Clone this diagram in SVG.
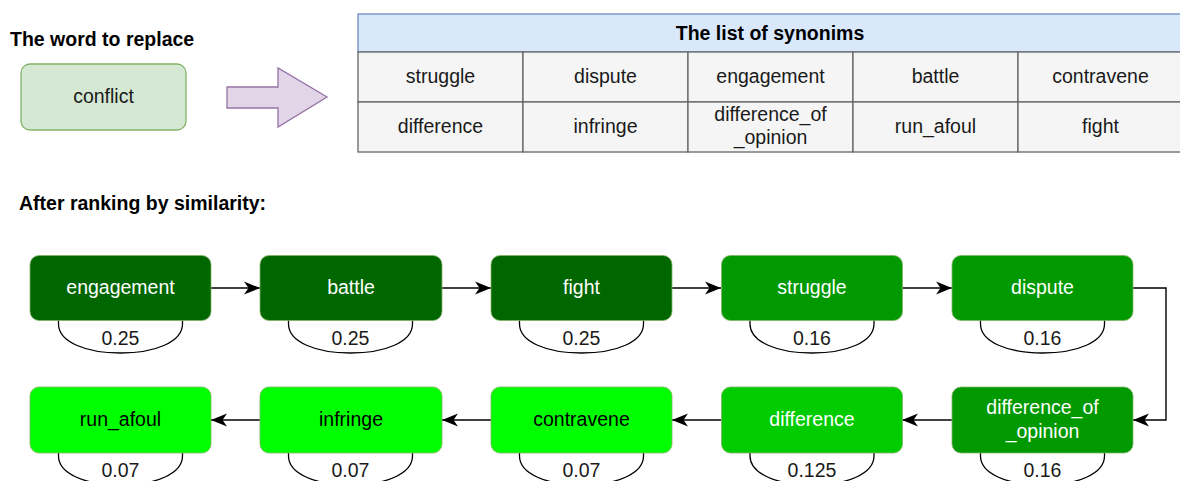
<svg xmlns="http://www.w3.org/2000/svg" width="1180" height="481" viewBox="0 0 1180 481">
<defs>
<marker id="arr" markerUnits="userSpaceOnUse" markerWidth="18" markerHeight="15" refX="16" refY="7" orient="auto">
<path d="M0,0.5 L16,7 L0,13.5 L4.5,7 Z" fill="#000"/>
</marker>
<style>
text{font-family:"Liberation Sans",Arial,Helvetica,sans-serif;font-size:19.5px;text-anchor:middle;fill:#1a1a1a}
.title{font-weight:bold;text-anchor:start;fill:#000}
.hdr{font-weight:bold;fill:#000}
.w{fill:#fff}
.k{fill:#000}
.cell{fill:#f5f5f5;stroke:#666;stroke-width:1.3}
.head{fill:#dae8fc;stroke:#6c8ebf;stroke-width:1.3}
.n{stroke:#82b366;stroke-width:1;stroke-opacity:0.8}
.c1{fill:#006600}
.c2{fill:#009900}
.c3{fill:#00cc00}
.c4{fill:#00ff00}
.bowl{fill:#fff;stroke:#000;stroke-width:1.3}
.edge{fill:none;stroke:#000;stroke-width:1.4}
</style>
</defs>
<rect width="1180" height="481" fill="#fff"/>

<text class="title" x="10" y="45.5">The word to replace</text>
<text class="title" x="19" y="210">After ranking by similarity:</text>

<g id="conflict">
<rect x="21" y="64" width="165" height="66" rx="9" fill="#d5e8d4" stroke="#82b366" stroke-width="1.3"/>
<text x="103.5" y="102.5">conflict</text>
</g>

<g id="bigArrow">
<polygon points="227,87 278,87 278,68 327,97 278,127 278,108 227,108" fill="#e1d5e7" stroke="#9673a6" stroke-width="1.3"/>
</g>

<g id="synonymTable">
<rect class="head" x="358" y="14" width="825" height="38"/>
<text class="hdr" x="770" y="40">The list of synonims</text>
<rect class="cell" x="358" y="52" width="165" height="50"/>
<rect class="cell" x="523" y="52" width="165" height="50"/>
<rect class="cell" x="688" y="52" width="165" height="50"/>
<rect class="cell" x="853" y="52" width="165" height="50"/>
<rect class="cell" x="1018" y="52" width="165" height="50"/>
<rect class="cell" x="358" y="102" width="165" height="50"/>
<rect class="cell" x="523" y="102" width="165" height="50"/>
<rect class="cell" x="688" y="102" width="165" height="50"/>
<rect class="cell" x="853" y="102" width="165" height="50"/>
<rect class="cell" x="1018" y="102" width="165" height="50"/>
<text x="440.5" y="83">struggle</text>
<text x="605.5" y="83">dispute</text>
<text x="770.5" y="83">engagement</text>
<text x="935.5" y="83">battle</text>
<text x="1100.5" y="83">contravene</text>
<text x="440.5" y="133">difference</text>
<text x="605.5" y="133">infringe</text>
<text x="770.5" y="121">difference_of</text>
<text x="770.5" y="144">_opinion</text>
<text x="935.5" y="133">run_afoul</text>
<text x="1100.5" y="133">fight</text>
</g>

<g id="connectors">
<line class="edge" x1="211" y1="288" x2="260" y2="288" marker-end="url(#arr)"/>
<line class="edge" x1="442" y1="288" x2="491" y2="288" marker-end="url(#arr)"/>
<line class="edge" x1="672" y1="288" x2="721" y2="288" marker-end="url(#arr)"/>
<line class="edge" x1="902" y1="288" x2="952" y2="288" marker-end="url(#arr)"/>
<polyline class="edge" points="1133,288 1166,288 1166,420 1133,420" marker-end="url(#arr)"/>
<line class="edge" x1="952" y1="420" x2="902" y2="420" marker-end="url(#arr)"/>
<line class="edge" x1="721" y1="420" x2="672" y2="420" marker-end="url(#arr)"/>
<line class="edge" x1="491" y1="420" x2="442" y2="420" marker-end="url(#arr)"/>
<line class="edge" x1="260" y1="420" x2="211" y2="420" marker-end="url(#arr)"/>
</g>

<g id="n-engagement">
<path class="bowl" d="M58.5,320 L58.5,324 C58.5,342 86,353 120.5,353 C155,353 182.5,342 182.5,324 L182.5,320"/>
<rect class="n c1" x="30" y="255.5" width="181" height="65" rx="9"/>
<text class="w" x="120.5" y="293.5">engagement</text>
<text x="120.5" y="345">0.25</text>
</g>
<g id="n-battle">
<path class="bowl" d="M288.5,320 L288.5,324 C288.5,342 316,353 350.5,353 C385,353 412.5,342 412.5,324 L412.5,320"/>
<rect class="n c1" x="260" y="255.5" width="182" height="65" rx="9"/>
<text class="w" x="351" y="293.5">battle</text>
<text x="350.5" y="345">0.25</text>
</g>
<g id="n-fight">
<path class="bowl" d="M519.5,320 L519.5,324 C519.5,342 547,353 581.5,353 C616,353 643.5,342 643.5,324 L643.5,320"/>
<rect class="n c1" x="491" y="255.5" width="181" height="65" rx="9"/>
<text class="w" x="581.5" y="293.5">fight</text>
<text x="581.5" y="345">0.25</text>
</g>
<g id="n-struggle">
<path class="bowl" d="M750,320 L750,324 C750,342 777.5,353 812,353 C846.5,353 874,342 874,324 L874,320"/>
<rect class="n c2" x="721.5" y="255.5" width="181" height="65" rx="9"/>
<text class="w" x="812" y="293.5">struggle</text>
<text x="812" y="345">0.16</text>
</g>
<g id="n-dispute">
<path class="bowl" d="M980.5,320 L980.5,324 C980.5,342 1008,353 1042.5,353 C1077,353 1104.5,342 1104.5,324 L1104.5,320"/>
<rect class="n c2" x="952" y="255.5" width="181" height="65" rx="9"/>
<text class="w" x="1042.5" y="293.5">dispute</text>
<text x="1042.5" y="345">0.16</text>
</g>

<g id="n-run_afoul">
<path class="bowl" d="M58.5,452 L58.5,456 C58.5,474 86,485 120.5,485 C155,485 182.5,474 182.5,456 L182.5,452"/>
<rect class="n c4" x="30" y="387" width="181" height="66" rx="9"/>
<text class="k" x="120.5" y="425.5">run_afoul</text>
<text x="120.5" y="477">0.07</text>
</g>
<g id="n-infringe">
<path class="bowl" d="M288.5,452 L288.5,456 C288.5,474 316,485 350.5,485 C385,485 412.5,474 412.5,456 L412.5,452"/>
<rect class="n c4" x="260" y="387" width="182" height="66" rx="9"/>
<text class="k" x="351" y="425.5">infringe</text>
<text x="350.5" y="477">0.07</text>
</g>
<g id="n-contravene">
<path class="bowl" d="M519.5,452 L519.5,456 C519.5,474 547,485 581.5,485 C616,485 643.5,474 643.5,456 L643.5,452"/>
<rect class="n c4" x="491" y="387" width="181" height="66" rx="9"/>
<text class="k" x="581.5" y="425.5">contravene</text>
<text x="581.5" y="477">0.07</text>
</g>
<g id="n-difference">
<path class="bowl" d="M750,452 L750,456 C750,474 777.5,485 812,485 C846.5,485 874,474 874,456 L874,452"/>
<rect class="n c3" x="721.5" y="387" width="181" height="66" rx="9"/>
<text class="w" x="812" y="425.5">difference</text>
<text x="812" y="477">0.125</text>
</g>
<g id="n-difference_of_opinion">
<path class="bowl" d="M980.5,452 L980.5,456 C980.5,474 1008,485 1042.5,485 C1077,485 1104.5,474 1104.5,456 L1104.5,452"/>
<rect class="n c2" x="952" y="387" width="181" height="66" rx="9"/>
<text class="w" x="1042.5" y="414">difference_of</text>
<text class="w" x="1042.5" y="438">_opinion</text>
<text x="1042.5" y="477">0.16</text>
</g>
</svg>
